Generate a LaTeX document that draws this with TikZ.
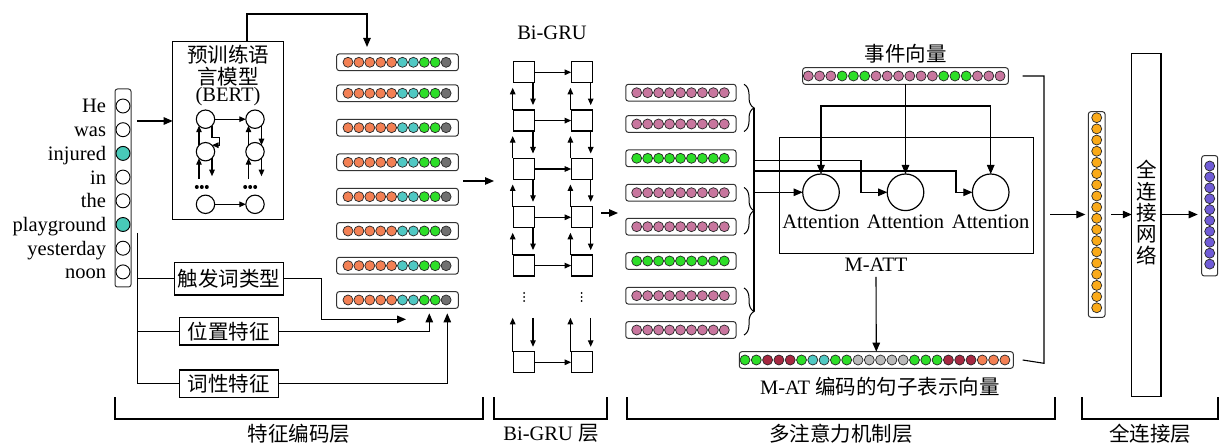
\documentclass[tikz,border=0pt]{standalone}
\usepackage{fontspec}
\setmainfont{Liberation Serif}
\newfontfamily\cjk{Noto Sans CJK SC}
\usetikzlibrary{arrows.meta,decorations.pathreplacing,calc}
\definecolor{wt}{RGB}{72,201,184}
\definecolor{eo}{RGB}{243,128,84}
\definecolor{et}{RGB}{80,200,195}
\definecolor{eg}{RGB}{45,222,40}
\definecolor{egr}{RGB}{112,112,112}
\definecolor{mp}{RGB}{200,118,158}
\definecolor{dr}{RGB}{165,40,65}
\definecolor{lg}{RGB}{185,185,185}
\definecolor{ovc}{RGB}{250,170,25}
\definecolor{pvc}{RGB}{112,92,214}
\begin{document}
\begin{tikzpicture}[x=1pt,y=-1pt,
  every node/.style={inner sep=0pt, outer sep=0pt},
  font=\fontsize{20.5}{24}\selectfont,
  line width=1.1pt,
  arr/.style={-{Triangle[length=9pt,width=7.5pt]}},
  sarr/.style={-{Triangle[length=6.5pt,width=5.5pt]}},
  vbox/.style={draw=black!80, rounded corners=2.5pt, line width=1pt},
  pt/.style={circle, draw=black!85, line width=0.7pt, minimum size=10pt},
  wpt/.style={circle, draw=black, line width=0.9pt, minimum size=14pt},
  bpt/.style={circle, draw=black, line width=1.1pt, minimum size=18.4pt},
  sq/.style={draw, minimum size=21pt, line width=1.2pt},
  fbox/.style={draw, line width=1.2pt},
  att/.style={circle, draw, line width=1.2pt, minimum size=36.6pt}]
\fill[white] (0,0) rectangle (1221,446);
\useasboundingbox (0,0) rectangle (1221,446);

% ---------- word column ----------
\node[vbox, minimum width=16pt, minimum height=198pt] (wcol) at (123,188) {};
\foreach \w/\c [count=\i from 0] in {He/white,was/white,injured/wt,in/white,the/white,playground/wt,yesterday/white,noon/white}{
  \node[wpt, fill=\c] (w\i) at (123,{106+23.7*\i}) {};
  \node[anchor=base east] (t\i) at (106,{113+23.7*\i}) {\w};
}

% ---------- BERT ----------
\node[fbox, minimum width=110.6pt, minimum height=178pt] (bert) at (228,130.3) {};
\node (bt1) at (228,55) {\cjk 预训练语};
\node (bt2) at (228,77) {\cjk 言模型};
\node (bt3) at (228,97) {(BERT)};
\node[bpt] (b1) at (205.5,119.2) {};
\node[bpt] (b2) at (255,119.2) {};
\node[bpt] (b3) at (205.5,151.7) {};
\node[bpt] (b4) at (255,151.7) {};
\node[bpt] (b5) at (205.5,204.3) {};
\node[bpt] (b6) at (255,204.3) {};
\foreach \x in {201.8,250.2}{\foreach \d in {-5,0,5}{\fill (\x+\d,187) circle (2pt);}}
\draw[sarr] (b1) -- (b2);
\draw[sarr] (b5) -- (b6);
\draw[sarr] (b3.north west) -- (b1.south west);
\draw[sarr] (b1.south east) -- ++(0,12) -- ++(7.5,0) |- (b3.north east);
\draw[sarr] (b4.north west) -- (b2.south west);
\draw[sarr] (b2.south east) -- (b4.north east);
\draw[sarr] ($(b3.south west)+(0,21)$) -- (b3.south west);
\draw[sarr] (b3.south east) -- ++(0,18);
\draw[sarr] ($(b4.south west)+(0,21)$) -- (b4.south west);
\draw[sarr] (b4.south east) -- ++(0,18);
\draw[arr] (137,121) -- (bert.west |- 0,121);

% ---------- embeddings ----------
\foreach \y [count=\i] in {62.3,93.3,127.7,162.3,196.7,231,265.7,300}{
  \node[vbox, minimum width=121.6pt, minimum height=16.7pt] (e\i) at (397.5,\y) {};
  \foreach \c [count=\j from 0] in {eo,eo,eo,eo,eo,et,et,eg,eg,egr}
    \node[pt, fill=\c] (e\i-\j) at ({348+10.9*\j},\y) {};
}
\draw[arr, shorten >=7pt] ([xshift=19pt]bert.north) -- ++(0,-27.3) -| ([xshift=-30.5pt]e1.north);

% ---------- features ----------
\node[fbox, minimum width=108.6pt, minimum height=32.3pt] (f1) at (229,278.9) {\cjk 触发词类型};
\node[fbox, minimum width=99pt, minimum height=27.3pt] (f2) at (228.8,331.4) {\cjk 位置特征};
\node[fbox, minimum width=99pt, minimum height=27.7pt] (f3) at (228.8,383.9) {\cjk 词性特征};
\coordinate (vtop) at (137.3,233);
\draw (vtop) |- (f3.west);
\draw (vtop |- f1.west) -- (f1.west);
\draw (vtop |- f2.west) -- (f2.west);
\draw[arr] (f1.east) -- ++(38.4,0) |- ($(e8.south)+(8.5,11)$);
\draw[arr] (f2.east) -| ($(e8.south)+(31.8,5)$);
\draw[arr] (f3.east) -| ($(e8.south)+(49.8,5)$);
\draw[arr] (463,181) -- (494,181);

% ---------- Bi-GRU ----------
\node (bgt) at (552,33) {Bi-GRU};
\foreach \y [count=\i] in {72.3,120.6,169,217.3,265.6,362.3}{
  \node[sq] (L\i) at (524,\y) {};
  \node[sq] (R\i) at (581.7,\y) {};
  \draw[sarr] (L\i) -- (R\i);
}
\foreach \i in {1,...,4}{
  \pgfmathtruncatemacro\n{\i+1}
  \foreach \s in {L,R}{
    \draw[sarr, shorten >=5pt] ([xshift=-0.8pt]\s\n.north west) -- ([xshift=-0.8pt]\s\i.south west);
    \draw[sarr, shorten >=5pt] ([xshift=-1.5pt]\s\i.south east) -- ([xshift=-1.5pt]\s\n.north east);
  }
}
\foreach \s in {L,R}{
  \draw[sarr] ([xshift=-0.8pt]\s6.north west) -- ++(0,-34);
  \draw[sarr, shorten >=5pt] ($(\s6.north east)+(-1.5,-34)$) -- ([xshift=-1.5pt]\s6.north east);
}
\foreach \x in {524,581.7}{\foreach \d in {-4,0,4}{\fill (\x,297+\d) circle (1pt);}}
\draw[arr] (601,213) -- (618,213);

% ---------- sentence vectors ----------
\foreach \y/\c [count=\i] in {92.7/mp,124/mp,158.3/eg,192.7/mp,226.7/mp,261/eg,295.7/mp,330/mp}{
  \node[vbox, minimum width=110.3pt, minimum height=16.7pt] (m\i) at (680.9,\y) {};
  \foreach \j in {0,...,8}
    \node[pt, fill=\c] (m\i-\j) at ({636.7+10.95*\j},\y) {};
}
\draw[decorate, decoration={brace, amplitude=10pt}, line width=1pt] (744,84.3) -- (744,131.5) coordinate[midway, xshift=10pt] (br1);
\draw[decorate, decoration={brace, amplitude=10pt}, line width=1pt] (744,187.5) -- (744,234) coordinate[midway, xshift=10pt] (br2);
\draw[decorate, decoration={brace, amplitude=10pt}, line width=1pt] (744,288) -- (744,335) coordinate[midway, xshift=10pt] (br3);
\draw (br1) -- (br3);

% ---------- event vector & attention ----------
\node (evt) at (905.5,53.3) {\cjk 事件向量};
\node[vbox, minimum width=205.6pt, minimum height=16.6pt] (ev) at (905.5,76) {};
\foreach \c [count=\j from 0] in {mp,mp,mp,eg,eg,eg,mp,mp,mp,mp,mp,mp,eg,eg,eg,mp,mp,mp}
  \node[pt, fill=\c] (ev-\j) at ({808.3+11.28*\j},76) {};
\node[fbox, minimum width=254pt, minimum height=116pt] (matt) at (906.3,195.3) {};
\node[att] (a1) at (821,192.3) {};
\node[att] (a2) at (905.5,192.3) {};
\node[att] (a3) at (990.7,192.3) {};
\node (al1) at (821,221.7) {Attention};
\node (al2) at (905.5,221.7) {Attention};
\node (al3) at (990.7,221.7) {Attention};
\draw[arr] (ev.south) -- (a2.north);
\coordinate (hev) at (905.5,106);
\draw[arr] (hev) -| (a1.north);
\draw[arr] (hev) -| (a3.north);
\draw[arr] (br2 |- a1.west) -- (a1.west);
\draw[arr] (br2 |- 0,160.7) -- (861,160.7) |- (a2.west);
\draw[arr] (br2 |- 0,171) -- (956,171) |- (a3.west);
\node (mattl) at (876,265) {M-ATT};

% ---------- M-AT vector ----------
\node[vbox, minimum width=274pt, minimum height=16.6pt] (mat) at (876.3,360) {};
\foreach \c [count=\j from 0] in {eg,eg,dr,dr,dr,eg,et,et,eg,eg,lg,lg,lg,lg,lg,eg,eg,eg,dr,dr,dr,eo,eo,eo}
  \node[pt, fill=\c] (mat-\j) at ({745+11.3*\j},360) {};
\draw[arr] ([yshift=-5pt]mattl.south) -- (mat.north);
\node (matl) at (880,386.7) {M-AT {\cjk 编码的句子表示向量}};
\draw ([xshift=14.4pt]ev.east) -| (1044,363.3) -- ([xshift=9.4pt]mat.east);

% ---------- fully connected ----------
\node[vbox, minimum width=16.7pt, minimum height=205.6pt] (ov) at (1096.7,214.5) {};
\foreach \j in {0,...,17}
  \node[pt, fill=ovc] (ov-\j) at (1096.7,{117.7+11.18*\j}) {};
\draw[arr, shorten >=3pt] (1050,214.5) -- (ov.west);
\node[fbox, minimum width=29.3pt, minimum height=343pt] (fc) at (1146.4,224.7) {};
\node[align=center, font=\fontsize{20.5}{21.3}\selectfont\cjk] (fct) at (1146.4,212.5) {全\\连\\接\\网\\络};
\draw[arr] ([xshift=6pt]ov.east) -- (ov.east -| fc.west);
\node[vbox, minimum width=16pt, minimum height=120.3pt] (pv) at (1209.7,215.8) {};
\foreach \j in {0,...,9}
  \node[pt, fill=pvc] (pv-\j) at (1209.7,{166+10.9*\j}) {};
\draw[arr, shorten >=4pt] (fc.east |- ov.east) -- (pv.west |- ov.east);

% ---------- bottom brackets ----------
\draw (115,397) |- (483,419) -- (483,397);
\draw (494,397) |- (607,419) -- (607,397);
\draw (627,397) |- (1055,419) -- (1055,397);
\draw (1082,397) |- (1218,419) -- (1218,397);
\node (l1) at (299,433.5) {\cjk 特征编码层};
\node (l2) at (551,433.5) {Bi-GRU {\cjk 层}};
\node (l3) at (841,433.5) {\cjk 多注意力机制层};
\node (l4) at (1150,433.5) {\cjk 全连接层};
\end{tikzpicture}
\end{document}
